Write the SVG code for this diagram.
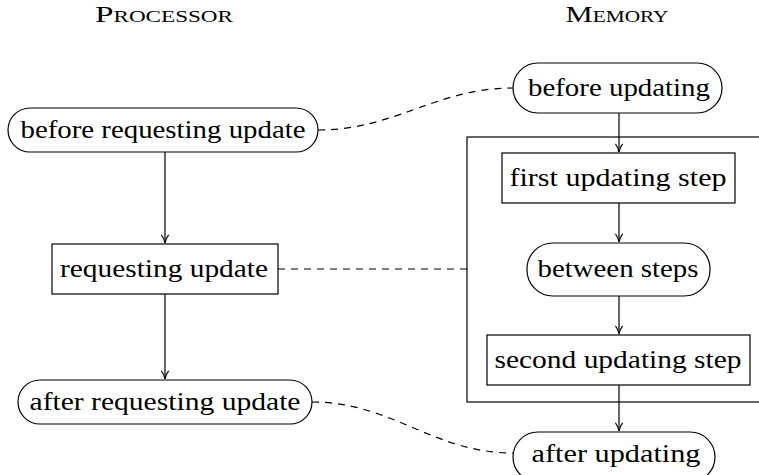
<svg xmlns="http://www.w3.org/2000/svg" width="759" height="475" viewBox="0 0 759 475">
<style>
.t{font-family:"Liberation Serif","Times New Roman",serif;font-size:25px;fill:#000;text-anchor:middle}
.h{font-family:"Liberation Serif","Times New Roman",serif;font-size:23px;font-variant:small-caps;fill:#000;text-anchor:middle}
.n{fill:#fff;stroke:#000;stroke-width:1.2}
.e{fill:none;stroke:#000;stroke-width:1.2}
.d{fill:none;stroke:#000;stroke-width:1.2;stroke-dasharray:7,6}
</style>
<defs>
<marker id="ah" viewBox="0 0 10 10" refX="10" refY="5" markerWidth="9" markerHeight="9" orient="auto" markerUnits="userSpaceOnUse">
<path d="M1,1 Q5,4 10,5 Q5,6 1,9" fill="none" stroke="#000" stroke-width="1.3"/>
</marker>
</defs>
<text class="h" x="164" y="22" textLength="138" lengthAdjust="spacingAndGlyphs">Processor</text>
<text class="h" x="617" y="22" textLength="103" lengthAdjust="spacingAndGlyphs">Memory</text>
<g id="memory-box"><rect x="467" y="137" width="300" height="265" class="e"/></g>
<g id="connectors">
<line x1="165" y1="152" x2="165" y2="243" class="e" marker-end="url(#ah)"/>
<line x1="165" y1="294" x2="165" y2="379" class="e" marker-end="url(#ah)"/>
<line x1="619" y1="113" x2="619" y2="152" class="e" marker-end="url(#ah)"/>
<line x1="619" y1="203" x2="619" y2="242" class="e" marker-end="url(#ah)"/>
<line x1="619" y1="296" x2="619" y2="334" class="e" marker-end="url(#ah)"/>
<line x1="619" y1="385" x2="619" y2="431" class="e" marker-end="url(#ah)"/>
<path d="M318,130 C395,130 436,88 513,88" class="d"/>
<line x1="278" y1="269" x2="467" y2="269" class="d"/>
<path d="M312,402 C392,402 433,453 513,453" class="d"/>
</g>
<g id="before-requesting-update"><rect x="8" y="108" width="310" height="44" rx="22" class="n"/><text class="t" x="163" y="138" textLength="285" lengthAdjust="spacingAndGlyphs">before requesting update</text></g>
<g id="requesting-update"><rect x="52" y="244" width="226" height="50" class="n"/><text class="t" x="164" y="277" textLength="208" lengthAdjust="spacingAndGlyphs">requesting update</text></g>
<g id="after-requesting-update"><rect x="18" y="380" width="294" height="44" rx="22" class="n"/><text class="t" x="165" y="410" textLength="271" lengthAdjust="spacingAndGlyphs">after requesting update</text></g>
<g id="before-updating"><rect x="513" y="63" width="209" height="50" rx="25" class="n"/><text class="t" x="619" y="96" textLength="182" lengthAdjust="spacingAndGlyphs">before updating</text></g>
<g id="first-updating-step"><rect x="502" y="153" width="233" height="50" class="n"/><text class="t" x="618" y="186" textLength="217" lengthAdjust="spacingAndGlyphs">first updating step</text></g>
<g id="between-steps"><rect x="527" y="243" width="183" height="53" rx="26" class="n"/><text class="t" x="618" y="277" textLength="161" lengthAdjust="spacingAndGlyphs">between steps</text></g>
<g id="second-updating-step"><rect x="487" y="335" width="263" height="50" class="n"/><text class="t" x="618" y="368" textLength="247" lengthAdjust="spacingAndGlyphs">second updating step</text></g>
<g id="after-updating"><rect x="513" y="432" width="202" height="50" rx="25" class="n"/><text class="t" x="616" y="462" textLength="169" lengthAdjust="spacingAndGlyphs">after updating</text></g>
</svg>
